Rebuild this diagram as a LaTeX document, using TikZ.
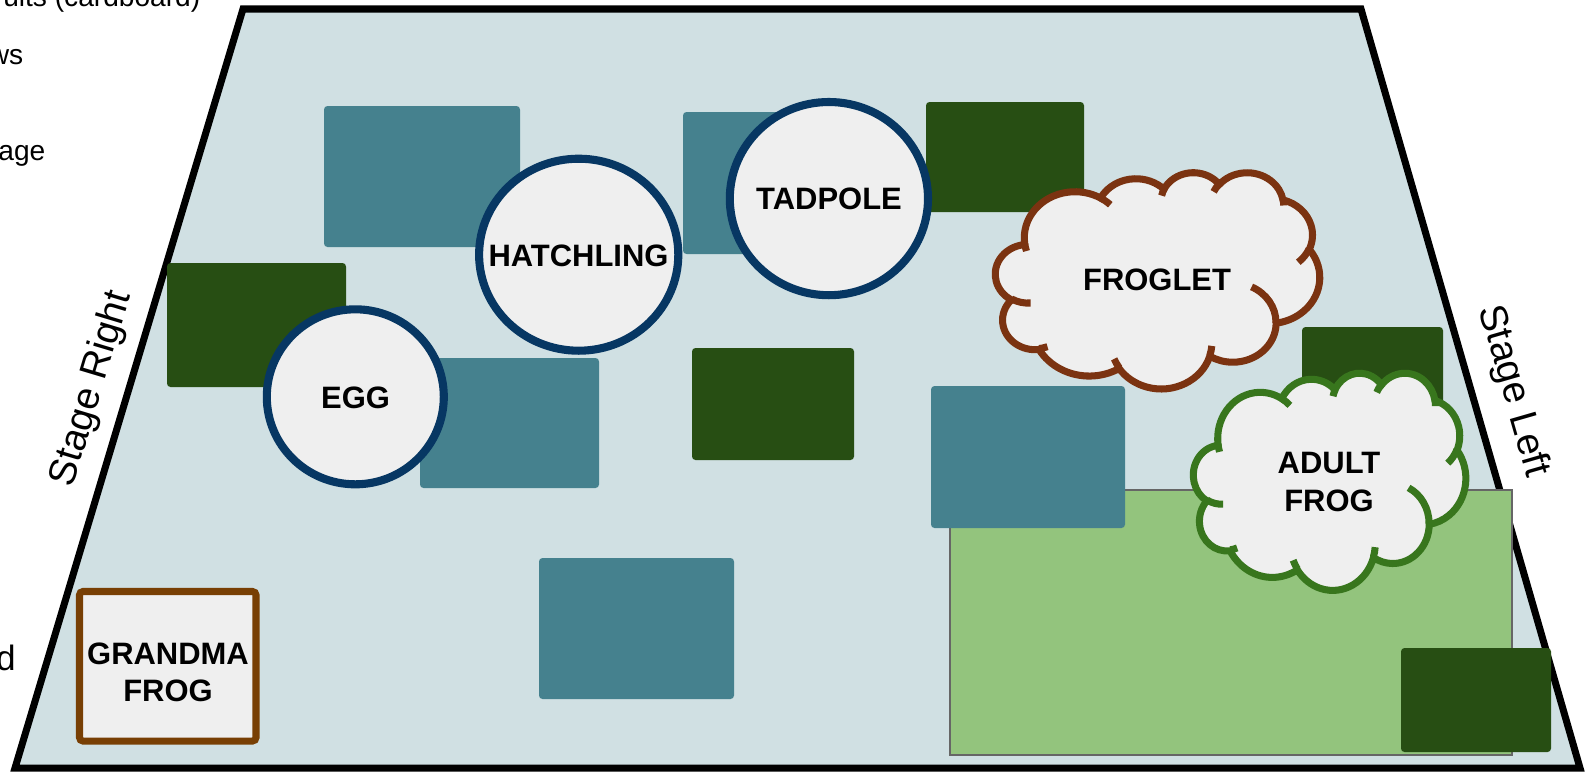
\documentclass[tikz,border=0pt]{standalone}
\usepackage{fontspec}
\setmainfont{Liberation Sans}
\definecolor{stagebg}{HTML}{D0E0E3}
\definecolor{propteal}{HTML}{45818E}
\definecolor{propgreen}{HTML}{274E13}
\definecolor{lawngreen}{HTML}{93C47D}
\definecolor{circblue}{HTML}{073763}
\definecolor{labelgray}{HTML}{EFEFEF}
\definecolor{frogletbrown}{HTML}{7B3311}
\definecolor{adultgreen}{HTML}{38761D}
\definecolor{grandmabrown}{HTML}{783F04}

\begin{document}
\begin{tikzpicture}[x=0.01cm, y=-0.01cm,
  tealprop/.style={fill=propteal, rounded corners=1pt},
  greenprop/.style={fill=propgreen, rounded corners=1pt},
  stagecirc/.style={draw=circblue, fill=labelgray, line width=2.3pt},
  cloudline/.style={line width=2pt},
  lifestage/.style={font=\bfseries\fontsize{8.8}{10.6}\selectfont, align=center},
  wingtext/.style={font=\fontsize{11}{13.2}\selectfont},
  cutoff/.style={font=\fontsize{8}{9.6}\selectfont, anchor=base east, inner sep=0pt}]%
%
\def\cloudpuff(#1:#2:#3:#4)% Syntax: (start angle:sweep:x radius:y radius), angles as seen
{ arc[start angle={atan2(#3*sin(#1),#4*cos(#1))}, delta angle={atan2(#3*sin(#1+#2),#4*cos(#1+#2))-atan2(#3*sin(#1),#4*cos(#1))-360*round((atan2(#3*sin(#1+#2),#4*cos(#1+#2))-atan2(#3*sin(#1),#4*cos(#1))-(#2))/360)}, x radius=#3, y radius=#4] }
\def\cloudoutline% box is 100 x 100
{ (9.028,33.264) \cloudpuff(-190.487:123.781:15.632:21.273) \cloudpuff(-144.102:89.945:12.345:16.822)
  \cloudpuff(-145.808:99.723:10.104:13.762) \cloudpuff(-130.986:117.242:11.243:15.266)
  \cloudpuff(-78.709:109.027:12.345:16.836) \cloudpuff(-46.267:130.269:15.683:21.343)
  \cloudpuff(0.625:114.033:13.391:18.211) \cloudpuff(22.452:115.173:15.630:21.331)
  \cloudpuff(66.243:75.711:17.870:24.405) \cloudpuff(-274.942:146.736:10.093:13.699)
  \cloudpuff(-246.829:152.519:10.058:13.762) -- cycle }
\def\cloudticks%
{ (10.863,60.595) \cloudpuff(86.742:26.430:10.058:13.762)
  (16.037,80.785) \cloudpuff(73.610:11.447:10.093:13.699)
  (38.144,90.486) \cloudpuff(137.624:14.081:15.630:21.331)
  (66.729,80.442) \cloudpuff(6.453:15.998:15.630:21.331)
  (79.002,53.134) \cloudpuff(-70.292:70.917:13.391:18.211)
  (96.755,35.542) \cloudpuff(30.318:27.752:12.345:16.836)
  (88.713,12.560) \cloudpuff(-13.744:14.859:11.243:15.266)
  (67.310,9.148) \cloudpuff(-149.181:18.195:11.243:15.266)
  (51.252,10.926) \cloudpuff(-163.494:17.686:10.104:13.762)
  (32.407,12.019) \cloudpuff(-66.707:12.319:15.632:21.273)
  (9.553,36.549) \cloudpuff(157.654:11.858:15.632:21.273) }
%
\useasboundingbox (0,0) rectangle (1585,772);
%
% notes cut off at the left border
\node[cutoff] (notetop) at (201,6) {ults (cardboard)};
\node[cutoff] (notews) at (24,64) {ws};
\node[cutoff] (noteage) at (46,160) {age};
\node[cutoff] (noten) at (2.5,273) {n};
\node[cutoff, font=\fontsize{10}{12}\selectfont] (noted) at (16.5,670) {d};
%
% stage floor
\draw[line width=2pt, fill=stagebg] (243,9) -- (1361,9) -- (1580,768) -- (15,768) -- cycle;
\node[wingtext, rotate=73.3] (stageright) at (92,389) {Stage Right};
\node[wingtext, rotate=-73.9] (stageleft) at (1513,391) {Stage Left};
%
% props
\fill[tealprop] (324,106) rectangle (520,247);
\fill[tealprop] (683,112) rectangle (878,254);
\fill[greenprop] (926,102) rectangle (1084,212);
\fill[greenprop] (167,263) rectangle (346,387);
\fill[tealprop] (420,358) rectangle (599,488);
\fill[greenprop] (692,348) rectangle (854,460);
\fill[greenprop] (1302,327) rectangle (1443,450);
\draw[fill=lawngreen, draw=black!60, line width=0.6pt] (950,490) rectangle (1512,755);
\fill[tealprop] (931,386) rectangle (1125,528);
\fill[greenprop] (1401,648) rectangle (1551,752);
\fill[tealprop] (539,558) rectangle (734,699);
%
% life stages
\draw[stagecirc] (355.3,396.8) ellipse [x radius=88.5, y radius=87.5];
\node[lifestage] (egg) at (355.5,398) {EGG};
\draw[stagecirc] (578.7,254.7) ellipse [x radius=99.6, y radius=96];
\node[lifestage] (hatchling) at (578.5,255.5) {HATCHLING};
\draw[stagecirc] (828.9,198.6) ellipse [x radius=99.1, y radius=96.6];
\node[lifestage] (tadpole) at (829,199) {TADPOLE};
%
\begin{scope}[shift={(995.5,172)}, x=0.0324cm, y=-0.0216cm]
\filldraw[cloudline, draw=frogletbrown, fill=labelgray] \cloudoutline;
\draw[cloudline, draw=frogletbrown] \cloudticks;
\end{scope}
\node[lifestage] (froglet) at (1157,280) {FROGLET};
%
\begin{scope}[shift={(1193.5,372.5)}, x=0.0272cm, y=-0.0217cm]
\filldraw[cloudline, draw=adultgreen, fill=labelgray] \cloudoutline;
\draw[cloudline, draw=adultgreen] \cloudticks;
\end{scope}
\node[lifestage] (adult) at (1329,482) {ADULT\\FROG};
%
\draw[draw=grandmabrown, fill=labelgray, line width=2pt, rounded corners=1pt] (79.5,591.5) rectangle (256,741);
\node[lifestage] (grandma) at (168,672) {GRANDMA\\FROG};
%
\end{tikzpicture}
\end{document}
